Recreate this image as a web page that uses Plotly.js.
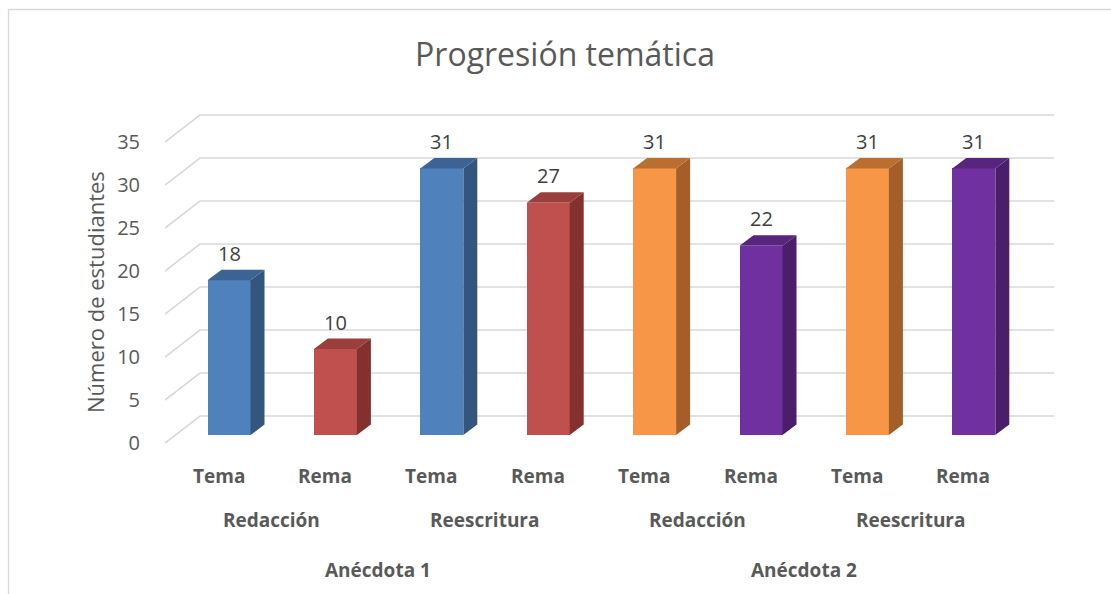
<!DOCTYPE html>
<html>
<head>
<meta charset="utf-8">
<script src="https://cdn.plot.ly/plotly-3.0.1.min.js"></script>
<style>
  html, body { margin: 0; padding: 0; background: #ffffff; }
  #chart { width: 1111px; height: 594px; }
</style>
</head>
<body>
<div id="chart"></div>
<script>
// ---------- data ----------
var level1 = ["Tema", "Rema", "Tema", "Rema", "Tema", "Rema", "Tema", "Rema"];
var level2 = ["Redacción", "Reescritura", "Redacción", "Reescritura"];
var level3 = ["Anécdota 1", "Anécdota 2"];
var values = [18, 10, 31, 27, 31, 22, 31, 31];
var yTicks = [0, 5, 10, 15, 20, 25, 30, 35];
var chartTitle = "Progresión temática";
var yTitle = "Número de estudiantes";

// ---------- styles ----------
var frontColors = ["#4F81BD", "#C0504D", "#4F81BD", "#C0504D", "#F79646", "#7030A0", "#F79646", "#7030A0"];
var sideColors  = ["#34557E", "#83302E", "#34557E", "#83302E", "#A35E2A", "#4A1E69", "#A35E2A", "#4A1E69"];
var topColors   = ["#3C6394", "#9A3F3C", "#3C6394", "#9A3F3C", "#BA6F31", "#57257E", "#BA6F31", "#57257E"];

var W = 1111, H = 594;
var L = 165, R = 1060, T = 100, B = 450;        // plot area in pixels
var slotPx = 106.4, slot0Px = 218.5;           // category spacing on the front plane
var unitPx = 8.6, zeroPx = 443;                // value scale on the front plane
function dx(px) { return px / slotPx; }
function dy(px) { return px / unitPx; }
function paperX(px) { return (px - L) / (R - L); }
function paperY(px) { return (B - px) / (B - T); }

var xMin = (L - slot0Px) / slotPx, xMax = (R - slot0Px) / slotPx;
var yMin = (zeroPx - B) / unitPx, yMax = (zeroPx - T) / unitPx;

var wallDX = dx(35), wallDY = dy(27);          // depth of the back wall
var barOffX = dx(10.5), barOffY = dy(8);       // depth of the bar front faces
var barW = dx(43);
var barDX = dx(14), barDY = dy(10.5);          // bar depth
var gridEnd = (1054 - slot0Px) / slotPx;

var idx = values.map(function (v, i) { return i; });
var cx = idx.map(function (i) { return i + barOffX; });

var traces = [];
// front faces
traces.push({
  type: "bar",
  x: cx,
  y: values,
  base: values.map(function () { return barOffY; }),
  width: values.map(function () { return barW; }),
  marker: { color: frontColors, line: { width: 0 } },
  hoverinfo: "y",
  showlegend: false
});
// side and top faces
values.forEach(function (v, i) {
  var xl = cx[i] - barW / 2, xr = cx[i] + barW / 2;
  var y0 = barOffY, y1 = barOffY + v;
  traces.push({
    type: "scatter", mode: "lines", fill: "toself",
    x: [xr, xr + barDX, xr + barDX, xr, xr],
    y: [y0, y0 + barDY, y1 + barDY, y1, y0],
    fillcolor: sideColors[i], line: { width: 0, color: sideColors[i] },
    hoverinfo: "skip", showlegend: false
  });
  traces.push({
    type: "scatter", mode: "lines", fill: "toself",
    x: [xl, xr, xr + barDX, xl + barDX, xl],
    y: [y1, y1, y1 + barDY, y1 + barDY, y1],
    fillcolor: topColors[i], line: { width: 0, color: topColors[i] },
    hoverinfo: "skip", showlegend: false
  });
});

// gridlines (perspective) as shapes below traces
var shapes = yTicks.map(function (v) {
  var p = "M" + xMin + "," + v + " L" + (xMin + wallDX) + "," + (v + wallDY) + " L" + gridEnd + "," + (v + wallDY);
  return { type: "path", xref: "x", yref: "y", path: p, layer: "below",
           line: { color: "#D9D9D9", width: 1.6 } };
});
// chart border (left and top)
shapes.push({
  type: "path", xref: "paper", yref: "paper", layer: "below",
  path: "M" + paperX(8.5) + "," + paperY(594) + " L" + paperX(8.5) + "," + paperY(9.5) + " L" + paperX(1111) + "," + paperY(9.5),
  line: { color: "#D9D9D9", width: 1.3 }
});

var annotations = [];
var font = "Open Sans, Lato, Liberation Sans, sans-serif";
// data labels
values.forEach(function (v, i) {
  annotations.push({
    x: cx[i], y: barOffY + v + barDY, xref: "x", yref: "y",
    text: String(v), showarrow: false, yanchor: "bottom", yshift: 1,
    font: { family: font, size: 20, color: "#404040" }
  });
});
// category labels (three levels)
level1.forEach(function (t, i) {
  annotations.push({
    x: i, y: paperY(476), xref: "x", yref: "paper", text: "<b>" + t + "</b>",
    showarrow: false, yanchor: "middle",
    font: { family: font, size: 19, color: "#595959" }
  });
});
level2.forEach(function (t, j) {
  annotations.push({
    x: 2 * j + 0.5, y: paperY(520), xref: "x", yref: "paper", text: "<b>" + t + "</b>",
    showarrow: false, yanchor: "middle",
    font: { family: font, size: 19, color: "#595959" }
  });
});
level3.forEach(function (t, k) {
  annotations.push({
    x: 4 * k + 1.5, y: paperY(570), xref: "x", yref: "paper", text: "<b>" + t + "</b>",
    showarrow: false, yanchor: "middle",
    font: { family: font, size: 19, color: "#595959" }
  });
});
// y axis title
annotations.push({
  x: paperX(95), y: paperY(292), xref: "paper", yref: "paper", text: yTitle,
  textangle: -90, showarrow: false, xanchor: "center", yanchor: "middle",
  font: { family: font, size: 22, color: "#595959" }
});

var layout = {
  width: W, height: H,
  margin: { l: L, r: W - R, t: T, b: H - B, pad: 0 },
  paper_bgcolor: "#ffffff", plot_bgcolor: "#ffffff",
  title: { text: chartTitle, x: 565 / W, xref: "container", xanchor: "center",
           y: 1 - 55 / H, yref: "container", yanchor: "middle",
           font: { family: font, size: 32, color: "#595959" } },
  xaxis: { range: [xMin, xMax], showgrid: false, zeroline: false, showline: false,
           showticklabels: false, ticks: "", fixedrange: true },
  yaxis: { range: [yMin, yMax], tickvals: yTicks, ticktext: yTicks.map(String),
           showgrid: false, zeroline: false, showline: false,
           ticks: "outside", ticklen: 20, tickcolor: "rgba(0,0,0,0)",
           tickfont: { family: font, size: 20, color: "#595959" }, fixedrange: true },
  shapes: shapes,
  annotations: annotations,
  showlegend: false,
  bargap: 0
};

Plotly.newPlot("chart", traces, layout, { displayModeBar: false, staticPlot: true });
</script>
</body>
</html>
